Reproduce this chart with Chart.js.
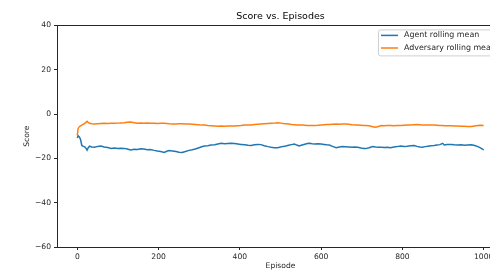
<!DOCTYPE html>
<html>
<head>
<meta charset="utf-8">
<script src="https://cdn.jsdelivr.net/npm/chart.js@4"></script>
<style>
  html, body { margin: 0; padding: 0; overflow: hidden; background: #fff; }
  canvas { display: block; }
</style>
</head>
<body>
<canvas id="chart" width="520" height="272"></canvas>
<script>
// Episodes (x values shared by both series)
const episodes = [0, 2, 5, 8, 11, 15, 18, 21, 24, 27, 30, 36, 42, 50, 58, 66, 75, 83, 91, 100,
  108, 115, 123, 131, 140, 148, 156, 164, 172, 180, 189, 197, 205, 214, 220, 226, 234, 243, 250, 258,
  266, 275, 283, 290, 298, 306, 313, 321, 329, 338, 346, 354, 362, 370, 378, 387, 395, 403, 412, 420,
  428, 436, 444, 452, 460, 469, 477, 485, 493, 500, 507, 513, 520, 527, 534, 540, 546, 553, 560, 566,
  571, 578, 585, 592, 600, 607, 614, 620, 628, 637, 645, 652, 660, 668, 676, 683, 690, 698, 705, 710,
  718, 727, 734, 741, 748, 756, 763, 771, 779, 787, 796, 804, 812, 820, 829, 836, 843, 849, 856, 863,
  870, 878, 885, 892, 899, 903, 910, 920, 928, 936, 945, 952, 960, 970, 978, 986, 993, 1000];

// Agent rolling mean
const agentScores = [-10.8, -9.8, -10.3, -11.5, -14.2, -14.6, -14.8, -15.4, -16.3, -15.2, -14.5, -14.9, -15.0, -14.6, -14.4, -14.9, -15.1, -15.5, -15.3, -15.6,
  -15.4, -15.5, -15.8, -16.2, -15.9, -16.0, -15.7, -15.8, -16.1, -16.0, -16.4, -16.7, -16.9, -17.3, -16.8, -16.5, -16.7, -16.9, -17.2, -17.3,
  -16.9, -16.4, -16.1, -15.8, -15.3, -14.8, -14.4, -14.3, -14.0, -13.9, -13.5, -13.2, -13.4, -13.3, -13.2, -13.3, -13.5, -13.7, -13.9, -14.1,
  -14.2, -13.9, -13.7, -13.8, -14.3, -14.7, -15.0, -15.2, -15.2, -14.9, -14.6, -14.4, -14.1, -13.8, -13.5, -14.0, -14.4, -14.0, -13.6, -13.3,
  -13.2, -13.4, -13.5, -13.4, -13.5, -13.7, -13.9, -14.0, -14.6, -15.2, -14.9, -14.7, -14.8, -14.9, -15.0, -14.9, -15.0, -15.3, -15.5, -15.6,
  -15.2, -14.7, -14.9, -15.0, -15.0, -15.1, -15.0, -15.2, -14.9, -14.7, -14.4, -14.6, -14.5, -14.3, -14.2, -14.6, -14.9, -15.0, -14.7, -14.5,
  -14.3, -14.2, -14.0, -13.8, -13.2, -14.0, -13.8, -13.7, -13.9, -14.0, -13.9, -14.1, -14.0, -13.9, -14.2, -14.7, -15.4, -16.2];

// Adversary rolling mean
const adversaryScores = [-9.6, -6.5, -5.7, -5.3, -5.0, -4.6, -4.2, -3.8, -3.3, -3.8, -4.2, -4.4, -4.5, -4.4, -4.3, -4.2, -4.3, -4.2, -4.2, -4.1,
  -4.0, -3.9, -3.7, -3.6, -3.9, -4.2, -4.1, -4.2, -4.1, -4.2, -4.2, -4.3, -4.2, -4.2, -4.3, -4.4, -4.5, -4.5, -4.4, -4.4,
  -4.5, -4.5, -4.6, -4.7, -4.8, -5.0, -5.0, -5.2, -5.3, -5.4, -5.5, -5.4, -5.5, -5.4, -5.4, -5.4, -5.3, -5.2, -5.0, -5.0,
  -4.9, -4.7, -4.6, -4.5, -4.4, -4.3, -4.2, -4.1, -3.9, -4.1, -4.3, -4.4, -4.5, -4.7, -4.8, -4.9, -5.0, -5.0, -5.1, -5.2,
  -5.2, -5.2, -5.2, -5.1, -4.9, -4.8, -4.7, -4.7, -4.6, -4.5, -4.6, -4.5, -4.5, -4.6, -4.8, -4.9, -5.0, -5.1, -5.2, -5.2,
  -5.3, -5.7, -6.0, -5.6, -5.2, -5.3, -5.2, -5.2, -5.3, -5.2, -5.2, -5.1, -5.0, -4.9, -4.8, -4.7, -4.8, -4.9, -5.0, -5.0,
  -5.0, -5.0, -5.1, -5.2, -5.2, -5.3, -5.3, -5.3, -5.4, -5.4, -5.5, -5.5, -5.6, -5.6, -5.4, -5.2, -5.1, -5.2];

const seriesLabels = ["Agent rolling mean", "Adversary rolling mean"];
const xTicks = [0, 200, 400, 600, 800, 1000];
const yTicks = [-60, -40, -20, 0, 20, 40];

const FONT = "'DejaVu Sans', sans-serif";
const INK = "#262626";

function toPoints(values) {
  return episodes.map((e, i) => ({ x: e, y: values[i] }));
}

// frame round the axes (matplotlib spines)
const framePlugin = {
  id: "frame",
  afterDatasetsDraw(chart) {
    const { ctx, chartArea: a } = chart;
    ctx.save();
    ctx.strokeStyle = INK;
    ctx.lineWidth = 1;
    ctx.strokeRect(Math.round(a.left) + 0.5, Math.round(a.top) + 0.5,
      Math.round(a.right - a.left), Math.round(a.bottom - a.top));
    ctx.restore();
  }
};

// boxed legend in the upper right, like matplotlib's
const boxLegend = {
  id: "boxLegend",
  afterDraw(chart) {
    const { ctx, chartArea: a } = chart;
    const x0 = a.right - 126, y0 = a.top + 4;
    ctx.save();
    ctx.fillStyle = "rgba(255,255,255,0.85)";
    ctx.strokeStyle = "#d0d0d0";
    ctx.lineWidth = 1;
    ctx.beginPath();
    ctx.roundRect(x0 + 0.5, y0 + 0.5, 140, 26, 2);
    ctx.fill();
    ctx.stroke();
    ctx.font = "7.9px " + FONT;
    ctx.textBaseline = "middle";
    chart.data.datasets.forEach((ds, i) => {
      const y = y0 + 6 + i * 12.6;
      ctx.strokeStyle = ds.borderColor;
      ctx.lineWidth = 1.5;
      ctx.beginPath();
      ctx.moveTo(x0 + 3, y);
      ctx.lineTo(x0 + 20, y);
      ctx.stroke();
      ctx.fillStyle = INK;
      ctx.fillText(ds.label, x0 + 26, y);
    });
    ctx.restore();
  }
};

new Chart(document.getElementById("chart"), {
  type: "line",
  plugins: [framePlugin, boxLegend],
  data: {
    datasets: [
      { label: seriesLabels[0], data: toPoints(agentScores), borderColor: "#1f77b4" },
      { label: seriesLabels[1], data: toPoints(adversaryScores), borderColor: "#ff7f0e" }
    ]
  },
  options: {
    responsive: false,
    devicePixelRatio: 1,
    animation: false,
    layout: { padding: { left: 22, right: 16, top: 0, bottom: 1 } },
    elements: {
      point: { radius: 0 },
      line: { borderWidth: 1.5, tension: 0 }
    },
    plugins: {
      legend: { display: false },
      tooltip: { enabled: false },
      title: {
        display: true,
        text: "Score vs. Episodes",
        fullSize: false,
        color: "#000",
        font: { family: FONT, size: 9.5, weight: "normal" },
        padding: { top: 11, bottom: 3 }
      }
    },
    scales: {
      x: {
        type: "linear",
        min: -50,
        max: 1050,
        afterBuildTicks: (scale) => { scale.ticks = xTicks.map(v => ({ value: v })); },
        afterFit: (scale) => { scale.height = 24; },
        grid: { drawOnChartArea: false, drawTicks: true, tickLength: 3, color: INK },
        border: { display: false },
        ticks: {
          color: INK, padding: 2, maxRotation: 0, font: { family: FONT, size: 7.6 },
          callback: (v) => String(v)
        },
        title: { display: true, text: "Episode", color: INK, padding: 0, font: { family: FONT, size: 7.6 } }
      },
      y: {
        type: "linear",
        min: -60,
        max: 40,
        afterBuildTicks: (scale) => { scale.ticks = yTicks.map(v => ({ value: v })); },
        afterFit: (scale) => { scale.width = 35; },
        grid: { drawOnChartArea: false, drawTicks: true, tickLength: 3, color: INK },
        border: { display: false },
        ticks: {
          color: INK, padding: 3, font: { family: FONT, size: 7.6 },
          callback: (v) => String(v).replace("-", "\u2212")
        },
        title: { display: true, text: "Score", color: INK, padding: 0, font: { family: FONT, size: 7.6 } }
      }
    }
  }
});
</script>
</body>
</html>
